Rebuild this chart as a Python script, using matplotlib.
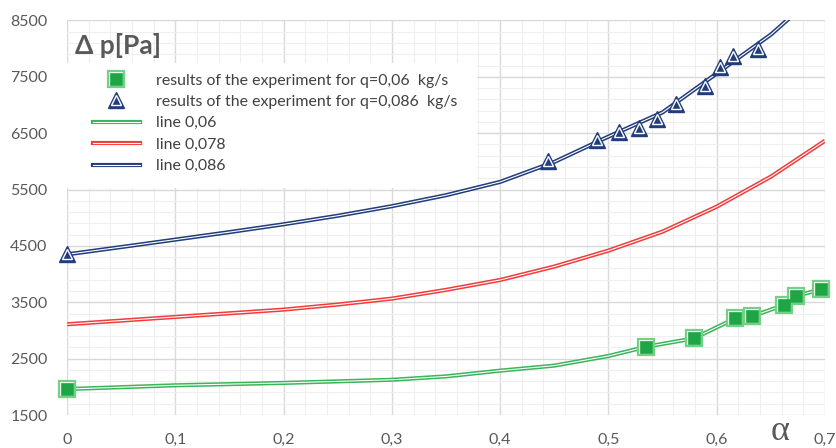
import matplotlib
matplotlib.use('Agg')
import matplotlib.pyplot as plt
import numpy as np
from matplotlib.lines import Line2D
from matplotlib.legend_handler import HandlerTuple
from matplotlib.patches import Rectangle
from matplotlib.ticker import FixedLocator

plt.rcParams['font.family'] = ['Lato', 'DejaVu Sans']

# ---- data ----
line_alpha = [0, 0.05, 0.1, 0.15, 0.2, 0.25, 0.3, 0.35, 0.4, 0.45, 0.5, 0.55, 0.6, 0.65, 0.7]
line_078 = [3110, 3175, 3240, 3305, 3370, 3460, 3565, 3720, 3896, 4134, 4417, 4754, 5197, 5729, 6367]
line_086 = [4350, 4480, 4612, 4745, 4884, 5035, 5205, 5400, 5636, 5990, 6440, 6870, 7560, 8250, 9100]

line_06_alpha = [0, 0.1, 0.2, 0.3, 0.35, 0.4, 0.45, 0.5, 0.535, 0.579, 0.617, 0.633, 0.662, 0.673, 0.696]
line_06 = [1960, 2027, 2069, 2125, 2185, 2287, 2376, 2547, 2711, 2860, 3214, 3255, 3450, 3610, 3729]

exp06_alpha = [0, 0.535, 0.579, 0.617, 0.633, 0.662, 0.673, 0.696]
exp06_dp = [1961, 2711, 2860, 3214, 3255, 3450, 3610, 3729]

exp086_alpha = [0, 0.444, 0.489, 0.510, 0.528, 0.545, 0.562, 0.589, 0.603, 0.615, 0.638]
exp086_dp = [4353, 6000, 6376, 6523, 6601, 6761, 7027, 7333, 7676, 7865, 8001]

x_ticks = [0, 0.1, 0.2, 0.3, 0.4, 0.5, 0.6, 0.7]
x_tick_labels = ['0', '0,1', '0,2', '0,3', '0,4', '0,5', '0,6', '0,7']
y_ticks = [1500, 2500, 3500, 4500, 5500, 6500, 7500, 8500]
y_tick_labels = ['1500', '2500', '3500', '4500', '5500', '6500', '7500', '8500']

legend_labels = ['results of the experiment for q=0,06  kg/s',
                 'results of the experiment for q=0,086  kg/s',
                 'line 0,06', 'line 0,078', 'line 0,086']

# ---- style ----
GREEN = '#3cb55a'
GREEN_LIGHT = '#74cf87'
GREEN_DARK = '#1ea646'
RED = '#f23c3c'
NAVY = '#223d7c'
GRAY = '#595959'

W, H = 837, 448
fig = plt.figure(figsize=(W / 100, H / 100), dpi=100)
L, R, T, B = 67, 825, 20.5, 415
ax = fig.add_axes([L / W, 1 - B / H, (R - L) / W, (B - T) / H])
ax.set_xlim(0, 0.7)
ax.set_ylim(1500, 8500)

ax.set_xticks(x_ticks)
ax.set_xticklabels(x_tick_labels)
ax.set_yticks(y_ticks)
ax.set_yticklabels(y_tick_labels)
ax.xaxis.set_minor_locator(FixedLocator(np.arange(0, 0.7001, 0.02)))
ax.yaxis.set_minor_locator(FixedLocator(np.arange(1500, 8501, 200)))
ax.grid(which='major', color='#d9d9d9', lw=1.0, zorder=0)
ax.grid(which='minor', color='#efefef', lw=0.8, zorder=0)
ax.set_axisbelow(True)
for s in ax.spines.values():
    s.set_visible(False)
ax.tick_params(which='both', length=0)
ax.tick_params(axis='y', pad=14, labelsize=11.5, labelcolor=GRAY)
ax.tick_params(axis='x', pad=13, labelsize=11.5, labelcolor=GRAY)

# white legend background
ax.add_patch(Rectangle((0, (B - 188) / (B - T)), (477 - L) / (R - L), (188 - 63) / (B - T),
                       transform=ax.transAxes, facecolor='white', edgecolor='none', zorder=1))


def dline(x, y, color):
    ax.plot(x, y, color=color, lw=3.0, zorder=3, solid_capstyle='butt', clip_on=True)
    ax.plot(x, y, color='white', lw=0.8, zorder=3.1, solid_capstyle='butt', clip_on=True)


dline(line_06_alpha, line_06, GREEN)
dline(line_alpha, line_078, RED)
dline(line_alpha, line_086, NAVY)

# markers
ax.plot(exp06_alpha, exp06_dp, 's', ms=11.5, mfc='white', mec=GREEN_LIGHT, mew=1.6, zorder=4, clip_on=False)
ax.plot(exp06_alpha, exp06_dp, 's', ms=8.0, mfc=GREEN_DARK, mec=GREEN_DARK, mew=0.5, zorder=5, clip_on=False)
ax.plot(exp086_alpha, exp086_dp, '^', ms=12, mfc=NAVY, mec=NAVY, mew=1.0, zorder=4, clip_on=False)
ax.plot(exp086_alpha, exp086_dp, '^', ms=7.5, mfc='none', mec='white', mew=1.0, zorder=5, clip_on=False)

# legend
h_sq = (Line2D([], [], marker='s', ls='none', ms=11.5, mfc='white', mec=GREEN_LIGHT, mew=1.6),
        Line2D([], [], marker='s', ls='none', ms=8.0, mfc=GREEN_DARK, mec=GREEN_DARK, mew=0.5))
h_tr = (Line2D([], [], marker='^', ls='none', ms=12, mfc=NAVY, mec=NAVY),
        Line2D([], [], marker='^', ls='none', ms=7.5, mfc='none', mec='white', mew=1.0))


def lh(c):
    return (Line2D([], [], color=c, lw=3.0), Line2D([], [], color='white', lw=0.8))


handles = [h_sq, h_tr, lh(GREEN), lh(RED), lh(NAVY)]
leg = ax.legend(handles, legend_labels, handler_map={tuple: HandlerTuple(ndivide=1, pad=0)},
                loc='upper left', bbox_to_anchor=((93 - L) / (R - L), (B - 73.5) / (B - T)),
                borderaxespad=0, borderpad=0, frameon=False, fontsize=11.4,
                handlelength=2.95, handletextpad=1.0, labelspacing=0.46, labelcolor='#404040')
leg.set_zorder(6)

fig.text(75 / W, 1 - 45 / H, 'Δ p[Pa]', ha='left', va='center', fontsize=19,
         fontweight='bold', color=GRAY)
fig.text(780 / W, 1 - 431 / H, 'α', ha='center', va='center', fontsize=26, color=GRAY,
         family=['Liberation Serif', 'DejaVu Serif'])

fig.savefig('out.png', dpi=100, facecolor='white')
